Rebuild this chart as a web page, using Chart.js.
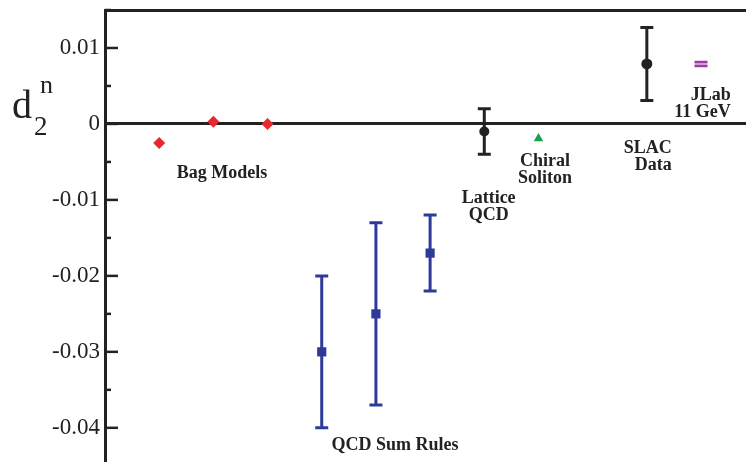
<!DOCTYPE html>
<html>
<head>
<meta charset="utf-8">
<script src="https://cdn.jsdelivr.net/npm/chart.js@4"></script>
<style>
  html, body { margin: 0; padding: 0; background: #fff; }
  #wrap { width: 746px; height: 462px; position: relative; }
</style>
</head>
<body>
<div id="wrap"><canvas id="d2Chart"></canvas></div>
<script>
// d2 neutron: model predictions vs data
const bagX = [1, 2, 3];
const bagY = [-0.0025, 0.0003, 0.0];

const sumRuleX = [4, 5, 6];
const sumRuleY = [-0.030, -0.025, -0.017];
const sumRuleLo = [-0.040, -0.037, -0.022];
const sumRuleHi = [-0.020, -0.013, -0.012];

const latticeX = [7];
const latticeY = [-0.001];
const latticeLo = [-0.004];
const latticeHi = [0.002];

const chiralX = [8];
const chiralY = [-0.0019];

const slacX = [10];
const slacY = [0.0079];
const slacLo = [0.0031];
const slacHi = [0.0127];

const jlabX = [11];
const jlabY = [0.0079];
const jlabLo = [0.00765];
const jlabHi = [0.00815];

const yTickStep = 0.005; // labels every other step (0.01)

const INK = "#222";
const SERIF = "'Liberation Serif', 'DejaVu Serif', serif";

// text notes next to each group (x, y in data units)
const notes = [
  { lines: ["Bag Models"], x: 2.16, y: -0.0071, align: "center" },
  { lines: ["Chiral", "Soliton"], x: 8.12, y: -0.0055, align: "center" },
  { lines: ["Lattice", "QCD"], x: 7.08, y: -0.0104, align: "center" },
  { lines: ["SLAC", "Data"], x: 10.46, y: -0.0038, align: "right" },
  { lines: ["JLab", "11 GeV"], x: 11.55, y: 0.0032, align: "right" },
  { lines: ["QCD Sum Rules"], x: 5.35, y: -0.0429, align: "center" },
];

function pts(xs, ys) {
  return xs.map((x, i) => ({ x: x, y: ys[i] }));
}

// vertical error bars with caps
const errorBars = {
  id: "errorBars",
  afterDatasetsDraw(chart) {
    const { ctx, scales } = chart;
    chart.data.datasets.forEach((ds) => {
      if (!ds.errLo) return;
      ctx.save();
      ctx.strokeStyle = ds.barColor;
      ctx.lineWidth = ds.barWidth || 3;
      ds.data.forEach((p, i) => {
        const x = scales.x.getPixelForValue(p.x);
        const y1 = scales.y.getPixelForValue(ds.errLo[i]);
        const y2 = scales.y.getPixelForValue(ds.errHi[i]);
        const c = ds.capWidth / 2;
        ctx.beginPath();
        if (ds.drawStem !== false) {
          ctx.moveTo(x, y1);
          ctx.lineTo(x, y2);
        }
        ctx.moveTo(x - c, y1);
        ctx.lineTo(x + c, y1);
        ctx.moveTo(x - c, y2);
        ctx.lineTo(x + c, y2);
        ctx.stroke();
      });
      ctx.restore();
    });
  },
};

// inward axis ticks, axis title and group notes
const decorations = {
  id: "decorations",
  afterDraw(chart) {
    const { ctx, scales, chartArea } = chart;
    const ys = scales.y;
    ctx.save();
    ctx.strokeStyle = INK;
    ctx.lineWidth = 2.5;
    ys.ticks.forEach((t) => {
      const y = ys.getPixelForValue(t.value);
      const major = Math.round(t.value / yTickStep) % 2 === 0;
      ctx.beginPath();
      ctx.moveTo(chartArea.left, y);
      ctx.lineTo(chartArea.left + (major ? 13 : 6), y);
      ctx.stroke();
    });

    // d_2^n
    ctx.fillStyle = INK;
    ctx.textAlign = "left";
    ctx.textBaseline = "alphabetic";
    ctx.font = "40px " + SERIF;
    ctx.fillText("d", 12, 118);
    ctx.font = "27px " + SERIF;
    ctx.fillText("2", 34, 135);
    ctx.font = "26px " + SERIF;
    ctx.fillText("n", 40, 93);

    ctx.font = "bold 18px " + SERIF;
    notes.forEach((n) => {
      const x = scales.x.getPixelForValue(n.x);
      const y = ys.getPixelForValue(n.y);
      ctx.textAlign = n.align;
      n.lines.forEach((line, i) => ctx.fillText(line, x, y + i * 17));
    });
    ctx.restore();
  },
};

const ctx = document.getElementById("d2Chart").getContext("2d");
const d2Chart = new Chart(ctx, {
  type: "scatter",
  data: {
    datasets: [
      {
        label: "Bag Models",
        data: pts(bagX, bagY),
        pointStyle: "rectRot",
        pointRadius: 6,
        pointBorderWidth: 0,
        backgroundColor: "#e8282c",
      },
      {
        label: "QCD Sum Rules",
        data: pts(sumRuleX, sumRuleY),
        pointStyle: "rect",
        pointRadius: 6.5,
        pointBorderWidth: 0,
        backgroundColor: "#2e3a9a",
        errLo: sumRuleLo,
        errHi: sumRuleHi,
        barColor: "#2e3a9a",
        capWidth: 13,
      },
      {
        label: "Lattice QCD",
        data: pts(latticeX, latticeY),
        pointStyle: "circle",
        pointRadius: 5,
        pointBorderWidth: 0,
        backgroundColor: INK,
        errLo: latticeLo,
        errHi: latticeHi,
        barColor: INK,
        capWidth: 13,
      },
      {
        label: "Chiral Soliton",
        data: pts(chiralX, chiralY),
        pointStyle: "triangle",
        pointRadius: 5.5,
        pointBorderWidth: 0,
        backgroundColor: "#18a04c",
      },
      {
        label: "SLAC Data",
        data: pts(slacX, slacY),
        pointStyle: "circle",
        pointRadius: 5.5,
        pointBorderWidth: 0,
        backgroundColor: INK,
        errLo: slacLo,
        errHi: slacHi,
        barColor: INK,
        capWidth: 13,
      },
      {
        label: "JLab 11 GeV",
        data: pts(jlabX, jlabY),
        pointRadius: 0,
        errLo: jlabLo,
        errHi: jlabHi,
        barColor: "#a03aa8",
        barWidth: 2.8,
        capWidth: 13,
        drawStem: false,
      },
    ],
  },
  options: {
    responsive: true,
    maintainAspectRatio: false,
    animation: false,
    layout: {
      autoPadding: false,
      padding: { top: 10, right: 0, bottom: 0, left: 0 },
    },
    plugins: {
      legend: { display: false },
      tooltip: { enabled: false },
    },
    scales: {
      x: {
        type: "linear",
        position: "top",
        min: 0,
        max: 11.83,
        ticks: { display: false },
        grid: { display: false, drawTicks: false },
        border: { display: true, width: 3, color: INK },
        afterFit: (scale) => {
          scale.height = 0;
          scale.paddingLeft = 0;
          scale.paddingRight = 0;
        },
      },
      y: {
        type: "linear",
        min: -0.0445,
        max: 0.015,
        ticks: {
          stepSize: yTickStep,
          includeBounds: false,
          padding: 5,
          color: INK,
          font: { family: SERIF, size: 23 },
          callback: (v) => {
            const k = Math.round(v / yTickStep);
            if (k % 2 !== 0) return "";
            return k === 0 ? "0" : (k * yTickStep).toFixed(2);
          },
        },
        grid: {
          drawTicks: false,
          lineWidth: 3,
          color: (c) => (c.tick && Math.abs(c.tick.value) < 1e-9 ? INK : "rgba(0,0,0,0)"),
        },
        border: { display: true, width: 3, color: INK },
        afterFit: (scale) => {
          scale.width = 105;
          scale.paddingTop = 0;
          scale.paddingBottom = 0;
        },
      },
    },
  },
  plugins: [errorBars, decorations],
});
</script>
</body>
</html>
